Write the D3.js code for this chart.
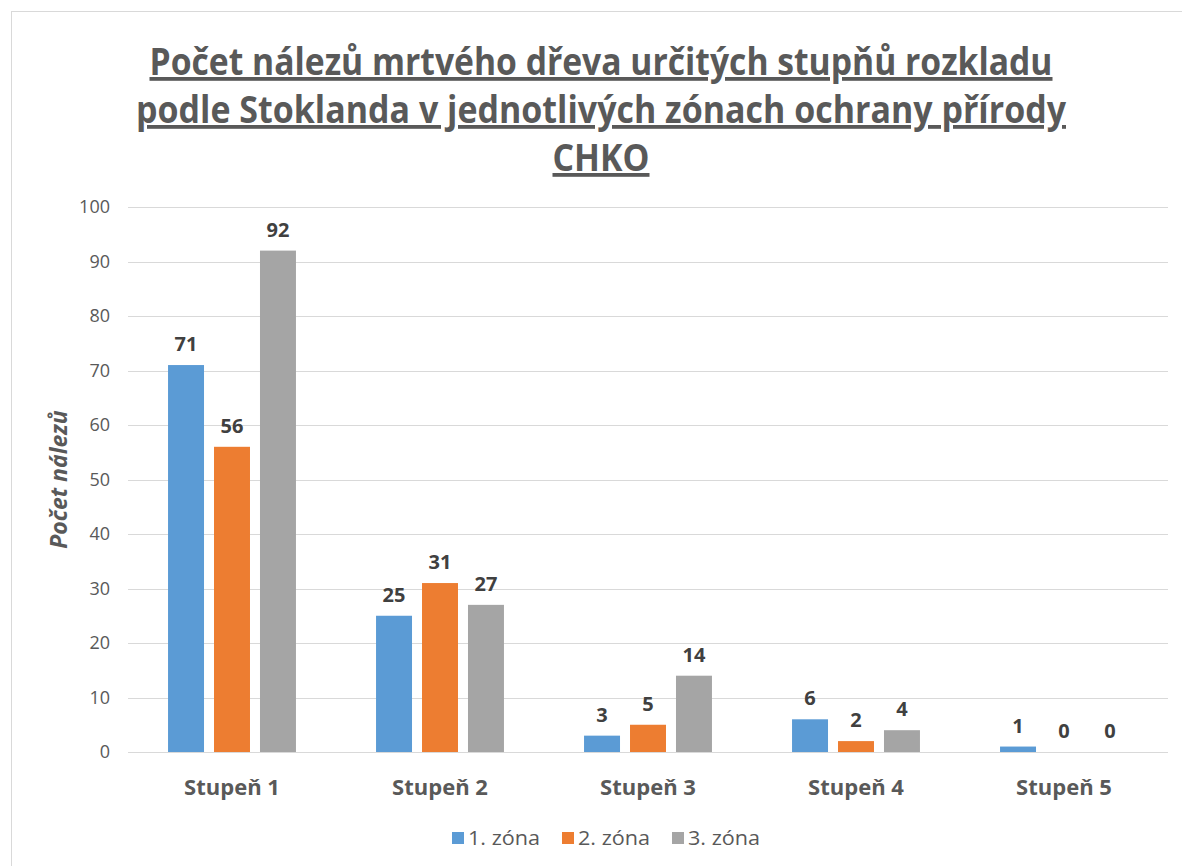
<!DOCTYPE html>
<html>
<head>
<meta charset="utf-8">
<script src="https://cdn.jsdelivr.net/npm/d3@7"></script>
<style>
  body { margin: 0; background: #fff; }
  text { font-family: "Open Sans", "DejaVu Sans", sans-serif; }
</style>
</head>
<body>
<script>
// data
var categories = ["Stupeň 1", "Stupeň 2", "Stupeň 3", "Stupeň 4", "Stupeň 5"];
var series = ["1. zóna", "2. zóna", "3. zóna"];
var zone1 = [71, 25, 3, 6, 1];
var zone2 = [56, 31, 5, 2, 0];
var zone3 = [92, 27, 14, 4, 0];
var yTicks = [0, 10, 20, 30, 40, 50, 60, 70, 80, 90, 100];
var titleLines = [
  "Počet nálezů mrtvého dřeva určitých stupňů rozkladu",
  "podle Stoklanda v jednotlivých zónach ochrany přírody",
  "CHKO"
];
var colors = ["#5B9BD5", "#ED7D31", "#A5A5A5"];

var width = 1182, height = 866;
var plot = { left: 128, right: 1168, top: 207, bottom: 752 };

var svg = d3.select("body").append("svg")
    .attr("width", width)
    .attr("height", height);

// chart frame
svg.append("rect")
    .attr("x", 11.5).attr("y", 11.5)
    .attr("width", 1200).attr("height", 900)
    .attr("fill", "none")
    .attr("stroke", "#d9d9d9");

// title (Calibri-like width forced with textLength)
var titleW = [903, 930, 97];
svg.append("g").selectAll("text")
  .data(titleLines)
  .enter().append("text")
    .attr("x", 601)
    .attr("y", function(d, i) { return 75 + i * 48; })
    .attr("text-anchor", "middle")
    .attr("textLength", function(d, i) { return titleW[i]; })
    .attr("lengthAdjust", "spacingAndGlyphs")
    .style("font-size", "38px")
    .style("font-weight", "bold")
    .style("fill", "#595959")
    .style("text-decoration", "underline")
    .text(function(d) { return d; });

var y = d3.scaleLinear().domain([0, 100]).range([plot.bottom, plot.top]);
var x0 = d3.scaleBand().domain(categories).range([plot.left, plot.right]);
var groupW = x0.bandwidth() * 0.615;
var x1 = d3.scaleBand().domain(series)
    .range([-groupW / 2, groupW / 2])
    .paddingInner(10 / 46);

// gridlines
svg.append("g").selectAll("line")
  .data(yTicks)
  .enter().append("line")
    .attr("x1", plot.left).attr("x2", plot.right)
    .attr("y1", function(d) { return Math.round(y(d)) + 0.5; })
    .attr("y2", function(d) { return Math.round(y(d)) + 0.5; })
    .attr("stroke", "#d9d9d9")
    .attr("stroke-width", 1);

// y axis labels
var yAxis = svg.append("g")
    .attr("transform", "translate(" + (plot.left - 18) + ",0)")
    .call(d3.axisLeft(y).tickValues(yTicks).tickSize(0).tickPadding(0));
yAxis.select(".domain").remove();
yAxis.selectAll("text")
    .style("font-size", "18px")
    .style("fill", "#595959")
    .style("font-family", "\"Open Sans\", sans-serif");

svg.append("text")
    .attr("transform", "translate(67," + ((plot.top + plot.bottom) / 2) + ") rotate(-90)")
    .attr("text-anchor", "middle")
    .style("font-size", "23px")
    .style("font-weight", "bold")
    .style("font-style", "italic")
    .style("fill", "#595959")
    .text("Počet nálezů");

// bars
var data = categories.map(function(c, i) {
  return { cat: c, vals: [zone1[i], zone2[i], zone3[i]] };
});

var groups = svg.append("g").selectAll("g")
  .data(data)
  .enter().append("g")
    .attr("transform", function(d) { return "translate(" + (x0(d.cat) + x0.bandwidth() / 2) + ",0)"; });

var bars = groups.selectAll("g")
  .data(function(d) { return d.vals.map(function(v, j) { return { s: series[j], v: v, j: j }; }); })
  .enter().append("g");

bars.append("rect")
    .attr("x", function(d) { return x1(d.s); })
    .attr("width", x1.bandwidth())
    .attr("y", function(d) { return y(d.v); })
    .attr("height", function(d) { return y(0) - y(d.v); })
    .attr("fill", function(d) { return colors[d.j]; });

bars.append("text")
    .attr("x", function(d) { return x1(d.s) + x1.bandwidth() / 2; })
    .attr("y", function(d) { return y(d.v) - 14; })
    .attr("text-anchor", "middle")
    .style("font-size", "20px")
    .style("font-weight", "bold")
    .style("fill", "#404040")
    .text(function(d) { return d.v; });

// x axis labels
var xAxis = svg.append("g")
    .attr("transform", "translate(0," + plot.bottom + ")")
    .call(d3.axisBottom(x0).tickSize(0).tickPadding(27));
xAxis.select(".domain").remove();
xAxis.selectAll("text")
    .style("font-size", "22px")
    .style("font-weight", "bold")
    .style("fill", "#595959")
    .style("font-family", "\"Open Sans\", sans-serif");

// legend
var legendX = [452, 562, 672];
var legend = svg.append("g").selectAll("g")
  .data(series)
  .enter().append("g")
    .attr("transform", function(d, i) { return "translate(" + legendX[i] + ",832)"; });
legend.append("rect")
    .attr("width", 12).attr("height", 12)
    .attr("fill", function(d, i) { return colors[i]; });
legend.append("text")
    .attr("x", 16).attr("y", 13)
    .attr("textLength", 72)
    .attr("lengthAdjust", "spacingAndGlyphs")
    .style("font-size", "20px")
    .style("fill", "#595959")
    .text(function(d) { return d; });
</script>
</body>
</html>
